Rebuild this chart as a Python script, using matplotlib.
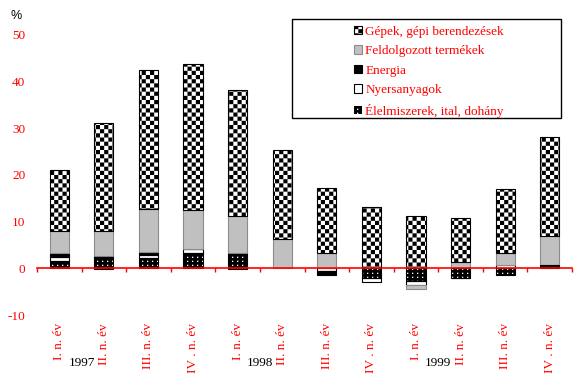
import warnings
warnings.filterwarnings("ignore")
import matplotlib
matplotlib.use("Agg")
import matplotlib.pyplot as plt
import matplotlib.transforms as mtransforms
from matplotlib import hatch as mhatch
from matplotlib.path import Path
from matplotlib.patches import Patch, Rectangle
import numpy as np

# ---------------- data ----------------
quarters = ['I. n. év', 'II. n. év', 'III. n. év', 'IV . n. év'] * 3
years = ['1997', '1998', '1999']
elelmiszer = [1.5, 2.4, 2.3, 3.2, 3.0, 0.0, 0.0, -2.1, -2.7, -2.0, -1.4, 0.7]
nyersanyag = [1.0, 0.2, 0.65, 0.85, 0.2, 0.0, -0.6, -0.75, -0.85, 0.0, 0.7, 0.0]
energia = [0.8, -0.2, 0.55, 0.1, -0.2, 0.0, -0.9, 0.0, 0.0, -0.1, 0.0, 0.0]
feldolgozott = [4.8, 5.4, 9.2, 8.4, 8.1, 6.2, 3.2, 0.0, -0.85, 1.4, 2.5, 6.3]
gepek = [12.9, 23.1, 29.8, 31.2, 26.9, 19.1, 14.0, 13.1, 11.2, 9.3, 13.7, 21.2]
series_names = ['Élelmiszerek, ital, dohány', 'Nyersanyagok', 'Energia',
                'Feldolgozott termékek', 'Gépek, gépi berendezések']
yticks = [-10, 0, 10, 20, 30, 40, 50]

# ---------------- custom hatches ----------------
class CheckerHatch(mhatch.HatchPatternBase):
    def __init__(self, hatch, density):
        self.n = 12 if 'x' in hatch else 0
        self.num_vertices = (2 * self.n * self.n) * 5 if self.n else 0

    def set_vertices_and_codes(self, vertices, codes):
        m = 2 * self.n
        s = 1.0 / m
        k = 0
        for i in range(m):
            for j in range(m):
                if (i + j) % 2 == 0:
                    x0, y0 = i * s, j * s
                    vertices[k:k + 5] = [(x0, y0), (x0 + s, y0), (x0 + s, y0 + s),
                                         (x0, y0 + s), (x0, y0)]
                    codes[k:k + 5] = [Path.MOVETO, Path.LINETO, Path.LINETO,
                                      Path.LINETO, Path.CLOSEPOLY]
                    k += 5


class DotHatch(mhatch.HatchPatternBase):
    def __init__(self, hatch, density):
        self.on = '.' in hatch
        self.nx, self.ny = 20, 25
        self.num_vertices = self.nx * self.ny * 5 if self.on else 0

    def set_vertices_and_codes(self, vertices, codes):
        dx, dy = 1.0 / self.nx, 1.0 / self.ny
        d = 0.013
        k = 0
        for i in range(self.nx):
            for j in range(self.ny):
                x0 = i * dx + 0.02
                y0 = j * dy + 0.02
                vertices[k:k + 5] = [(x0, y0), (x0 + d, y0), (x0 + d, y0 + d),
                                     (x0, y0 + d), (x0, y0)]
                codes[k:k + 5] = [Path.MOVETO, Path.LINETO, Path.LINETO,
                                  Path.LINETO, Path.CLOSEPOLY]
                k += 5


mhatch._hatch_types = [CheckerHatch, DotHatch]
plt.rcParams['hatch.linewidth'] = 0.0
plt.rcParams['font.family'] = ['Liberation Serif', 'DejaVu Serif']

# ---------------- figure ----------------
W, H = 577, 392
fig = plt.figure(figsize=(W / 100, H / 100), dpi=100)
ax_left, ax_right = 37, 572
ax_bottom_px, ax_top_px = 315.0, 11.6
ax = fig.add_axes([ax_left / W, 1 - ax_bottom_px / H,
                   (ax_right - ax_left) / W, (ax_bottom_px - ax_top_px) / H])

x = np.arange(len(quarters))
width = 0.43
styles = [
    dict(facecolor='black', edgecolor='white', linewidth=0, hatch='.'),
    dict(facecolor='white', edgecolor='black', linewidth=0.8),
    dict(facecolor='black', edgecolor='black', linewidth=0.8),
    dict(facecolor='#c0c0c0', edgecolor='#8c8c8c', linewidth=0.8),
    dict(facecolor='white', edgecolor='black', linewidth=0.8, hatch='x'),
]
series = [elelmiszer, nyersanyag, energia, feldolgozott, gepek]
pos_b = np.zeros(len(x))
neg_b = np.zeros(len(x))
for i, (vals, st) in enumerate(zip(series, styles)):
    v = np.array(vals, dtype=float)
    m = v != 0
    bottom = np.where(v >= 0, pos_b, neg_b)
    ax.bar(x[m], v[m], width, bottom=bottom[m], zorder=1, **st)
    if i == 0:
        ax.bar(x[m], v[m], width, bottom=bottom[m], fill=False,
               edgecolor='black', linewidth=0.8, zorder=1.1)
    pos_b += np.where(v > 0, v, 0)
    neg_b += np.where(v < 0, v, 0)

ax.set_xlim(-0.5, len(x) - 0.5)
ax.set_ylim(-10, 55)

for s in ['top', 'right', 'left']:
    ax.spines[s].set_visible(False)
ax.spines['bottom'].set_position(('data', 0))
ax.spines['bottom'].set_color('red')
ax.spines['bottom'].set_linewidth(1.2)
ax.spines['bottom'].set_zorder(3)

ax.set_yticks(yticks)
ax.set_yticklabels([str(t) for t in yticks])
ax.tick_params(axis='y', length=0, pad=8.5, labelcolor='red', labelsize=9.5)

ax.set_xticks(x)
ax.set_xticklabels(quarters, rotation=90)
ax.set_xticks(np.arange(len(x) + 1) - 0.5, minor=True)
ax.tick_params(axis='x', which='major', length=0, pad=39.5,
               labelcolor='red', labelsize=9.5)
ax.tick_params(axis='x', which='minor', length=3, width=1.0,
               color='red', direction='out')

trans = mtransforms.blended_transform_factory(ax.transData, ax.transAxes)
for k, yr in enumerate(years):
    ax.text(4 * k + 0.5, -0.158, yr, transform=trans, ha='center',
            va='center', fontsize=9.5, color='black')

fig.text(16 / W, 1 - 16 / H, '%', ha='center', va='center', fontsize=9,
         family='Liberation Sans')

# legend
fig.patches.append(Rectangle((292 / W, 1 - 118.3 / H), (561 - 292) / W,
                             (118.3 - 19.3) / H, transform=fig.transFigure,
                             fill=False, edgecolor='black', linewidth=1.0))
handles = []
for st in styles[::-1]:
    d = dict(st)
    if d.get('hatch') == '.':
        d['edgecolor'] = 'white'
    handles.append(Patch(**d))
leg = fig.legend(handles, series_names[::-1], loc='upper left',
                 bbox_to_anchor=(354 / W, 1 - 25.5 / H), frameon=False,
                 borderpad=0, borderaxespad=0, handlelength=0.62,
                 handleheight=0.62, handletextpad=0.25, labelspacing=0.57,
                 fontsize=9.5, labelcolor='red')

fig.savefig('out.png', dpi=100)
